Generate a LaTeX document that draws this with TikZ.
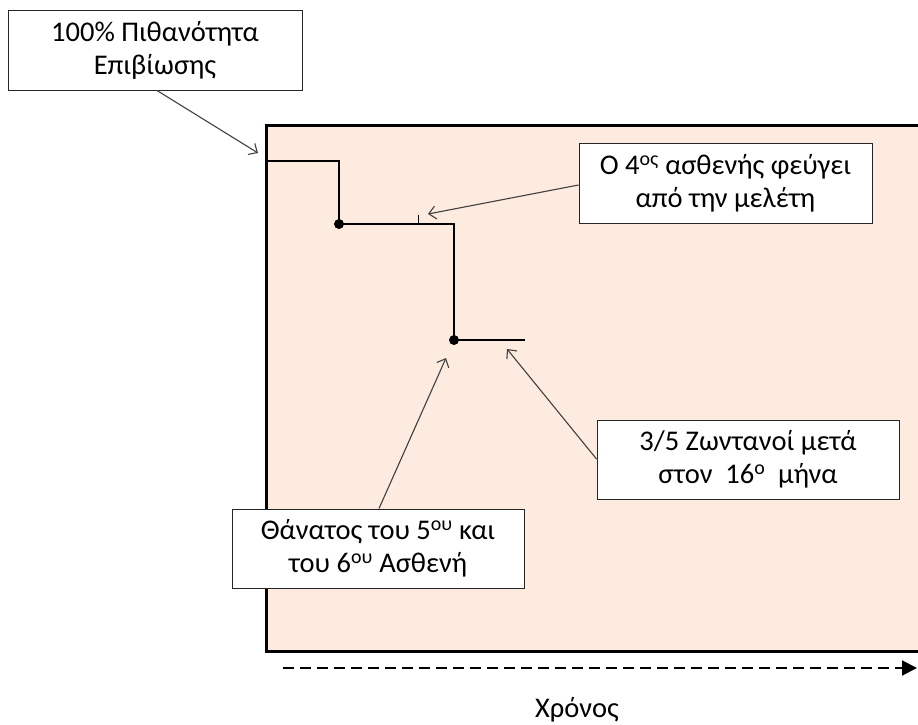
\documentclass[tikz,border=0pt]{standalone}
\usepackage{fontspec}
\setmainfont{Carlito}
\usetikzlibrary{arrows.meta}
\definecolor{peach}{RGB}{253,235,223}
\definecolor{linegray}{RGB}{64,64,64}
\tikzset{
  callout/.style={draw=black!85, line width=1pt, fill=white, align=center, inner sep=0pt,
    font=\fontsize{28.5}{33}\selectfont},
  pointer/.style={draw=linegray, line width=1.1pt, -{Straight Barb[length=7pt,width=13pt,line width=1.1pt]}},
  curve/.style={draw=black, line width=1.5pt},
  dotmark/.style={circle, fill=black, inner sep=0pt, minimum size=10pt},
}
\begin{document}
\begin{tikzpicture}[x=1pt,y=-1pt]
\useasboundingbox (0,0) rectangle (918,724);
\clip (0,0) rectangle (918,724);
% plot area
\fill[peach] (266,125) rectangle (930,651);
\draw[line width=3pt, line join=miter] (930,125) -- (266,125) -- (266,651) -- (930,651);
% survival step curve
\coordinate (s0) at (267.5,161);
\coordinate (s1) at (339,161);
\node[dotmark] (d1) at (339,224) {};
\coordinate (s2) at (454,224);
\node[dotmark] (d2) at (454,340) {};
\coordinate (s3) at (525,340);
\coordinate (tk) at (418.5,224);
\draw[curve] (s0) -- (s1) -- (d1.center) -- (s2) -- (d2.center) -- (s3);
\draw[line width=1.2pt] (tk) -- ++(0,-9);
% callouts
\node[callout, minimum width=294pt, minimum height=80pt] (b1) at (155,50)
  {100\% Πιθανότητα\\Επιβίωσης};
\node[callout, minimum width=293pt, minimum height=80pt] (b2) at (725.5,183)
  {Ο 4\textsuperscript{ος} ασθενής φεύγει\\από την μελέτη};
\node[callout, minimum width=302pt, minimum height=79pt] (b3) at (748,459.5)
  {3/5 Ζωντανοί μετά\\στον\ \ 16\textsuperscript{ο}\ \ μήνα};
\node[callout, minimum width=292pt, minimum height=79pt] (b4) at (378,548.5)
  {Θάνατος του 5\textsuperscript{ου} και\\του 6\textsuperscript{ου} Ασθενή};
% pointer targets
\coordinate (t1) at (258,153);
\coordinate (t2) at (428,214);
\coordinate (t3) at (446,358);
\coordinate (t4) at (507,349);
\draw[pointer] (b1.south -| 157,0) -- (t1);
\draw[pointer] (b2.west |- 0,185) -- (t2);
\draw[pointer] (b4.north -| 379,0) -- (t3);
\draw[pointer] (b3.west |- 0,459) -- (t4);
% time axis
\coordinate (ax0) at (283,668);
\coordinate (ax1) at (917,668);
\draw[line width=2pt, dash pattern=on 11pt off 6pt, -{Triangle[length=15pt,width=15pt]}] (ax0) -- (ax1);
\node[font=\fontsize{28.5}{33}\selectfont, anchor=base] (xl) at (577,717) {Χρόνος};
\end{tikzpicture}
\end{document}
